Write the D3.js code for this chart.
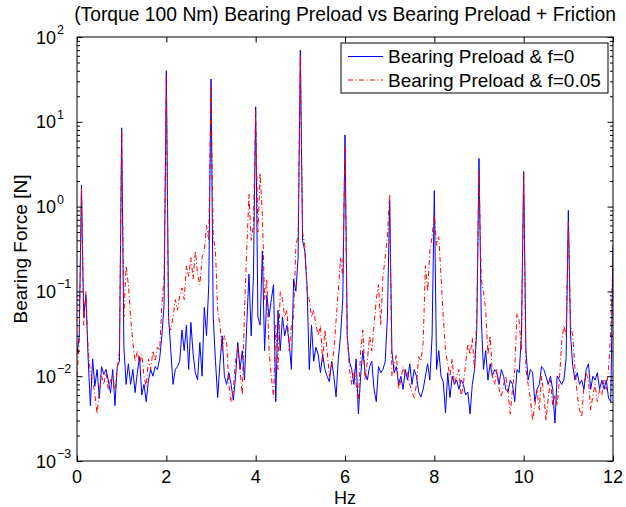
<!DOCTYPE html>
<html><head><meta charset="utf-8">
<script src="https://cdn.jsdelivr.net/npm/d3@7"></script>
<style>
body{margin:0;background:#fff}
svg{display:block}
text{font-family:"Liberation Sans",Arial,Helvetica,sans-serif;fill:#000}
</style>
</head><body>
<svg id="c" width="626" height="507"></svg>
<script>
// ---- data ----
const freqStep = 0.05; // Hz between samples, 0..12 Hz
const blueF0 = [
 0.018,0.03,1.8,0.05,0.09,0.016,0.0045,0.016,0.0076,0.012,0.0055,0.013,0.0105,0.012,0.009,0.0063,0.012,0.0045,0.013,0.015,8.5,
 0.022,0.008,0.014,0.008,0.012,0.0064,0.011,0.017,0.006,0.008,0.005,0.009,0.012,0.010,0.013,0.012,0.016,0.03,0.07,40,
 0.05,0.02,0.008,0.012,0.013,0.015,0.035,0.02,0.04,0.012,0.043,0.018,0.011,0.009,0.025,0.01,0.065,0.03,0.12,32,
 0.05,0.015,0.0056,0.014,0.03,0.01,0.008,0.011,0.008,0.0052,0.01,0.025,0.012,0.02,0.009,0.04,0.16,0.03,0.15,15,
 0.05,0.04,0.3,0.02,0.09,0.05,0.08,0.12,0.005,0.06,0.02,0.05,0.03,0.04,0.025,0.012,0.14,0.1,0.25,70,
 0.4,0.3,0.12,0.012,0.04,0.015,0.022,0.018,0.011,0.018,0.012,0.01,0.0086,0.015,0.01,0.0057,0.016,0.03,0.08,7,
 0.03,0.015,0.012,0.008,0.016,0.0036,0.01,0.02,0.011,0.009,0.013,0.015,0.007,0.005,0.013,0.011,0.012,0.015,0.05,1.2,
 0.02,0.011,0.013,0.008,0.01,0.007,0.012,0.009,0.014,0.008,0.012,0.01,0.0065,0.0057,0.007,0.01,0.014,0.009,0.03,1.55,
 0.012,0.02,0.01,0.0086,0.0037,0.011,0.0056,0.01,0.008,0.009,0.007,0.009,0.008,0.006,0.0065,0.0036,0.008,0.012,0.035,3.7,
 0.05,0.012,0.02,0.009,0.014,0.01,0.012,0.011,0.008,0.012,0.01,0.007,0.0065,0.009,0.008,0.005,0.012,0.011,0.03,2.6,
 0.02,0.009,0.012,0.011,0.005,0.007,0.008,0.013,0.012,0.01,0.008,0.01,0.007,0.0028,0.01,0.009,0.008,0.009,0.016,0.9,
 0.03,0.013,0.009,0.011,0.008,0.009,0.007,0.012,0.014,0.007,0.01,0.009,0.011,0.007,0.009,0.007,0.009,0.0055,0.005,0.35
];
const redF005 = [
 0.01,0.025,1.6,0.04,0.1,0.02,0.011,0.009,0.006,0.0036,0.0065,0.01,0.008,0.011,0.007,0.009,0.01,0.007,0.012,0.02,7.7,
 0.05,0.2,0.12,0.05,0.025,0.015,0.02,0.014,0.018,0.01,0.0075,0.016,0.012,0.02,0.015,0.022,0.02,0.07,0.15,33,
 0.04,0.035,0.05,0.08,0.06,0.09,0.11,0.08,0.2,0.15,0.25,0.14,0.3,0.16,0.12,0.25,0.3,0.6,0.4,28,
 0.45,0.3,0.06,0.04,0.02,0.03,0.025,0.008,0.005,0.007,0.015,0.022,0.012,0.006,0.06,0.3,1.4,0.4,0.6,13.5,
 0.5,2.5,0.8,0.08,0.14,0.02,0.01,0.0056,0.04,0.012,0.1,0.08,0.05,0.06,0.02,0.04,0.05,0.35,0.45,60,
 0.5,0.35,0.1,0.08,0.05,0.06,0.04,0.03,0.04,0.015,0.035,0.02,0.01,0.013,0.02,0.045,0.1,0.25,0.15,5.3,
 0.03,0.012,0.008,0.012,0.008,0.005,0.02,0.035,0.009,0.015,0.03,0.02,0.04,0.08,0.12,0.04,0.15,0.25,0.45,1.4,
 0.01,0.013,0.018,0.007,0.009,0.013,0.01,0.011,0.008,0.0065,0.0056,0.008,0.017,0.015,0.025,0.2,0.1,0.3,0.45,0.8,
 0.35,0.44,0.15,0.05,0.02,0.014,0.01,0.016,0.008,0.01,0.012,0.0057,0.008,0.014,0.024,0.018,0.028,0.012,0.05,2.7,
 0.14,0.1,0.06,0.018,0.03,0.01,0.008,0.012,0.007,0.0057,0.008,0.01,0.0065,0.0036,0.007,0.012,0.055,0.045,0.02,2.5,
 0.012,0.008,0.0055,0.003,0.0045,0.007,0.004,0.01,0.006,0.003,0.0055,0.009,0.0045,0.006,0.0045,0.009,0.025,0.04,0.03,0.65,
 0.04,0.03,0.012,0.006,0.004,0.0033,0.008,0.011,0.009,0.004,0.006,0.008,0.005,0.007,0.006,0.009,0.007,0.012,0.035,0.25
];
const xTicks = [0,2,4,6,8,10,12];
const yDecades = [-3,-2,-1,0,1,2];
const seriesNames = ["Bearing Preload & f=0","Bearing Preload & f=0.05"];
const titleText = "(Torque 100 Nm) Bearing Preload vs Bearing Preload + Friction";
const xLabel = "Hz";
const yLabel = "Bearing Force [N]";

// ---- layout ----
const svg = d3.select("#c");
const L = 77, R = 613, T = 37, B = 461;
const x = d3.scaleLinear().domain([0,12]).range([L,R]);
const y = d3.scaleLog().domain([1e-3,1e2]).range([B,T]);
const freq = blueF0.map((d,i)=>i*freqStep);

const majorY = yDecades.map(e=>Math.pow(10,e));
const minorY = [];
yDecades.slice(0,-1).forEach(e=>{ for(let k=2;k<=9;k++) minorY.push(k*Math.pow(10,e)); });

svg.append("rect").attr("x",0).attr("y",0).attr("width",626).attr("height",507).attr("fill","#fff");

// data lines
svg.append("clipPath").attr("id","pa").append("rect")
  .attr("x",L).attr("y",T).attr("width",R-L).attr("height",B-T);
const line = d3.line().x((d,i)=>x(freq[i])).y(d=>y(d));
const g = svg.append("g").attr("clip-path","url(#pa)");
g.append("path").attr("d",line(blueF0)).attr("fill","none").attr("stroke","#0000ff").attr("stroke-width",1);
g.append("path").attr("d",line(redF005)).attr("fill","none").attr("stroke","#ff0000").attr("stroke-width",1)
  .attr("stroke-dasharray","5,2.5,1,2.5");

// axes (inward ticks)
function styleAx(sel){ sel.select(".domain").remove(); sel.selectAll("line").attr("stroke","#000"); sel.selectAll("text").remove(); }
svg.append("g").attr("transform",`translate(0,${B})`).call(d3.axisBottom(x).tickValues(xTicks).tickSize(-5.5)).call(styleAx);
svg.append("g").attr("transform",`translate(0,${T})`).call(d3.axisTop(x).tickValues(xTicks).tickSize(-5.5)).call(styleAx);
svg.append("g").attr("transform",`translate(${L},0)`).call(d3.axisLeft(y).tickValues(majorY).tickSize(-5.5)).call(styleAx);
svg.append("g").attr("transform",`translate(${R},0)`).call(d3.axisRight(y).tickValues(majorY).tickSize(-5.5)).call(styleAx);
svg.append("g").attr("transform",`translate(${L},0)`).call(d3.axisLeft(y).tickValues(minorY).tickSize(-3)).call(styleAx);
svg.append("g").attr("transform",`translate(${R},0)`).call(d3.axisRight(y).tickValues(minorY).tickSize(-3)).call(styleAx);

// box
svg.append("rect").attr("x",L).attr("y",T).attr("width",R-L).attr("height",B-T)
  .attr("fill","none").attr("stroke","#000").attr("stroke-width",1);

// x tick labels
svg.append("g").selectAll("text").data(xTicks).join("text")
  .attr("x",d=>x(d)).attr("y",B+22).attr("text-anchor","middle").attr("font-size",18).text(d=>d);
// y tick labels 10^n
const yl = svg.append("g").selectAll("g").data(yDecades).join("g");
yl.append("text").attr("x",56).attr("y",d=>y(Math.pow(10,d))+6.5).attr("text-anchor","end").attr("font-size",18).text("10");
yl.append("text").attr("x",57).attr("y",d=>y(Math.pow(10,d))-3).attr("font-size",12.5)
  .text(d=>d<0?"\u2212"+Math.abs(d):String(d));

// labels
svg.append("text").attr("x",(L+R)/2).attr("y",21).attr("text-anchor","middle").attr("font-size",19.3).text(titleText);
svg.append("text").attr("x",(L+R)/2).attr("y",504).attr("text-anchor","middle").attr("font-size",18).text(xLabel);
svg.append("text").attr("transform",`translate(27,${(T+B)/2}) rotate(-90)`).attr("text-anchor","middle").attr("font-size",19).text(yLabel);

// legend
const lg = svg.append("g");
lg.append("rect").attr("x",341).attr("y",43).attr("width",267).attr("height",50).attr("fill","#fff").attr("stroke","#000");
const legendRows = [{name:seriesNames[0],color:"#0000ff",dash:null,yy:56.5},{name:seriesNames[1],color:"#ff0000",dash:"5,2.5,1,2.5",yy:80}];
legendRows.forEach(r=>{
  lg.append("line").attr("x1",348).attr("x2",383).attr("y1",r.yy).attr("y2",r.yy).attr("stroke",r.color).attr("stroke-dasharray",r.dash);
  lg.append("text").attr("x",388).attr("y",r.yy+6.5).attr("font-size",19).text(r.name);
});
</script>
</body></html>
